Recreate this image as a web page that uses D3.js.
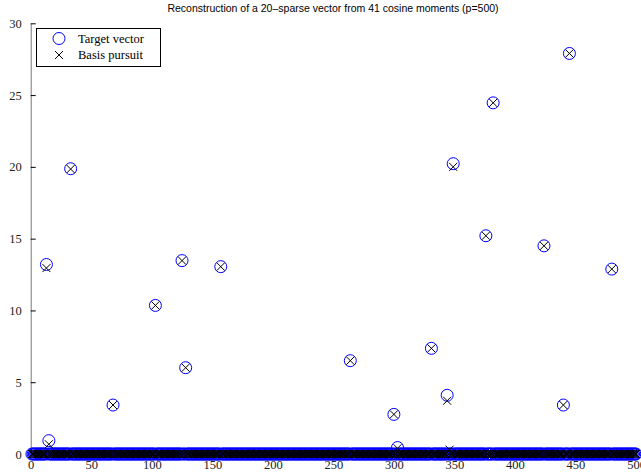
<!DOCTYPE html>
<html>
<head>
<meta charset="utf-8">
<script src="https://cdn.jsdelivr.net/npm/d3@7"></script>
<style>
  body { margin: 0; background: #fff; }
  svg { display: block; }
</style>
</head>
<body>
<svg id="chart" width="641" height="474"></svg>
<script>
// 500-long vectors, all zero except these indices (1-based)
const spikeIndex = [13, 15, 33, 68, 103, 125, 128, 157, 264, 300, 303, 331, 344, 349, 376, 382, 424, 440, 445, 480];
const targetValues = [13.2, 0.93, 19.87, 3.41, 10.35, 13.47, 6.01, 13.05, 6.5, 2.76, 0.45, 7.36, 4.09, 20.22, 15.2, 24.46, 14.5, 3.41, 27.9, 12.88];
const bpIndex = [13, 15, 33, 68, 103, 125, 128, 157, 264, 300, 303, 331, 344, 346, 349, 376, 382, 424, 440, 445, 480];
const bpValues = [12.95, 0.68, 19.85, 3.41, 10.35, 13.47, 6.01, 13.05, 6.5, 2.76, 0.4, 7.36, 3.71, 0.3, 20.0, 15.2, 24.46, 14.5, 3.41, 27.9, 12.88];
const xTicks = [0, 50, 100, 150, 200, 250, 300, 350, 400, 450, 500];
const yTicks = [0, 5, 10, 15, 20, 25, 30];
const p = 500;

function fullVector(idx, vals) {
    const v = d3.range(1, p + 1).map(i => ({ i: i, v: 0 }));
    idx.forEach((k, j) => v[k - 1].v = vals[j]);
    return v;
}

const target = fullVector(spikeIndex, targetValues);
const bp = fullVector(bpIndex, bpValues);

const svg = d3.select("#chart");
const x = d3.scaleLinear().domain([0, 500]).range([30.7, 636]);
const y = d3.scaleLinear().domain([0, 30]).range([454, 23.3]);

svg.append("text")
    .attr("x", 333).attr("y", 12)
    .attr("text-anchor", "middle")
    .attr("font-family", "Liberation Sans, Arial, sans-serif")
    .attr("font-size", 10.5)
    .text("Reconstruction of a 20\u2013sparse vector from 41 cosine moments (p=500)");

// left axis, ticks pointing inward
const yAxis = svg.append("g")
    .attr("transform", `translate(${x(0)},0)`)
    .call(d3.axisLeft(y).tickValues(yTicks).tickSizeInner(-5).tickSizeOuter(0).tickPadding(9));
yAxis.select(".domain").attr("stroke", "#777");
yAxis.selectAll("text")
    .attr("font-family", "Liberation Serif, DejaVu Serif, serif")
    .attr("font-size", 12.5).attr("fill", "#222");

const xAxis = svg.append("g")
    .attr("transform", `translate(0,${y(0)})`)
    .call(d3.axisBottom(x).tickValues(xTicks).tickSizeInner(-5).tickSizeOuter(0).tickPadding(6));
xAxis.select(".domain").attr("stroke", "#777");
xAxis.selectAll("text")
    .attr("font-family", "Liberation Serif, DejaVu Serif, serif")
    .attr("font-size", 12.5).attr("fill", "#222");

svg.append("g")
    .selectAll("circle")
    .data(target)
    .join("circle")
    .attr("cx", d => x(d.i))
    .attr("cy", d => y(d.v))
    .attr("r", 6)
    .attr("fill", "none")
    .attr("stroke", "#0000ff")
    .attr("stroke-width", 1);

const s = 4;
svg.append("g")
    .selectAll("path")
    .data(bp)
    .join("path")
    .attr("d", d => {
        const cx = x(d.i), cy = y(d.v);
        return `M${cx - s},${cy - s}L${cx + s},${cy + s}M${cx - s},${cy + s}L${cx + s},${cy - s}`;
    })
    .attr("stroke", "#000")
    .attr("stroke-width", 1);

// legend
const lg = svg.append("g");
lg.append("rect")
    .attr("x", 36.5).attr("y", 28.5).attr("width", 124).attr("height", 38)
    .attr("fill", "#fff").attr("stroke", "#000");
lg.append("circle")
    .attr("cx", 59).attr("cy", 38.5).attr("r", 6)
    .attr("fill", "none").attr("stroke", "#0000ff");
lg.append("path")
    .attr("d", `M${59 - s},${55 - s}L${59 + s},${55 + s}M${59 - s},${55 + s}L${59 + s},${55 - s}`)
    .attr("stroke", "#000");
const legendLabels = ["Target vector", "Basis pursuit"];
lg.selectAll("text")
    .data(legendLabels)
    .join("text")
    .attr("x", 78)
    .attr("y", (d, i) => 42.5 + i * 16)
    .attr("font-family", "Liberation Serif, DejaVu Serif, serif")
    .attr("font-size", 12.5)
    .text(d => d);
</script>
</body>
</html>
